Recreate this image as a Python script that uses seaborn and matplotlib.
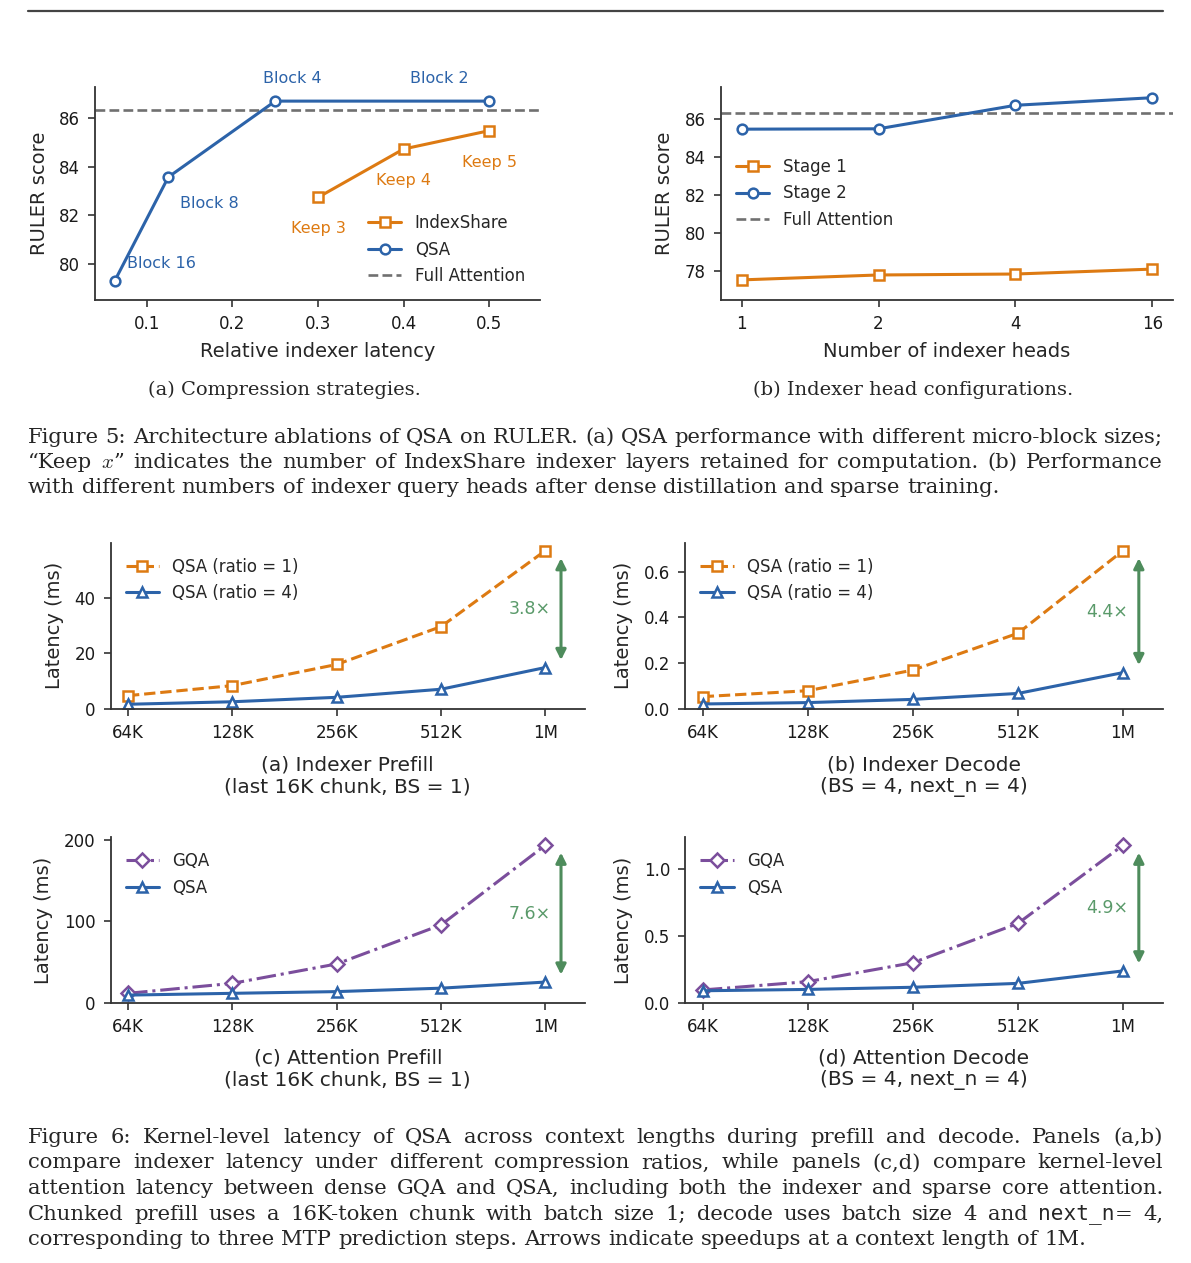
import numpy as np
import matplotlib
matplotlib.use("Agg")
import matplotlib.pyplot as plt
import seaborn as sns
from matplotlib.ticker import MultipleLocator
from matplotlib.lines import Line2D

# ---------------- data ----------------
qsa_latency = [0.0625, 0.125, 0.25, 0.5]
qsa_score = [79.33, 83.57, 86.68, 86.68]
qsa_labels = ["Block 16", "Block 8", "Block 4", "Block 2"]
qsa_label_pos = [(0.117, 80.04), (0.173, 82.5), (0.2696, 87.62), (0.442, 87.6)]

idx_latency = [0.3, 0.4, 0.5]
idx_score = [82.74, 84.72, 85.47]
idx_labels = ["Keep 3", "Keep 4", "Keep 5"]
idx_label_pos = [(0.30, 81.47), (0.40, 83.45), (0.50, 84.16)]

full_attention = 86.3

heads = ["1", "2", "4", "16"]
stage1 = [77.51, 77.77, 77.82, 78.08]
stage2 = [85.46, 85.48, 86.72, 87.12]

contexts = ["64K", "128K", "256K", "512K", "1M"]
idx_prefill_r1 = [4.8, 8.4, 16.0, 29.6, 56.9]
idx_prefill_r4 = [1.7, 2.6, 4.2, 7.1, 14.9]
idx_decode_r1 = [0.054, 0.080, 0.170, 0.331, 0.692]
idx_decode_r4 = [0.022, 0.028, 0.042, 0.068, 0.159]
attn_prefill_gqa = [11.5, 23.7, 47.5, 95.3, 193.1]
attn_prefill_qsa = [9.3, 11.5, 13.6, 17.8, 25.3]
attn_decode_gqa = [0.095, 0.157, 0.298, 0.591, 1.174]
attn_decode_qsa = [0.089, 0.099, 0.115, 0.144, 0.237]
speedups = ["3.8×", "4.4×", "7.6×", "4.9×"]

# ---------------- style ----------------
sns.set_theme(style="ticks")
plt.rcParams["font.family"] = ["DejaVu Sans"]
plt.rcParams["mathtext.fontset"] = "cm"

ORANGE = "#DD7A12"
BLUE = "#2C63A9"
PURPLE = "#7B4E9C"
GREEN = "#4E8C5C"
GRAY = "#707070"
DARK = "#333333"

W, H = 1191, 1263
fig = plt.figure(figsize=(W / 100, H / 100), dpi=100)


def px_axes(l, t, r, b):
    return fig.add_axes([l / W, 1 - b / H, (r - l) / W, (b - t) / H])


def style_ax(ax):
    sns.despine(ax=ax)
    for s in ("left", "bottom"):
        ax.spines[s].set_color(DARK)
        ax.spines[s].set_linewidth(1.3)
    ax.tick_params(labelsize=12, length=5, width=1.2, pad=6,
                   color=DARK, labelcolor="#1a1a1a")


def line(ax, x, y, color, marker, ls="-", label=None, ms=7.0):
    sns.lineplot(x=x, y=y, ax=ax, color=color, marker=marker, linestyle=ls,
                 linewidth=2.2, markersize=ms, markerfacecolor="white",
                 markeredgecolor=color, markeredgewidth=1.8, label=label,
                 legend=False, sort=False, errorbar=None)


# ---------------- Figure 5 (a) ----------------
ax = px_axes(95.4, 86.7, 540, 300)
style_ax(ax)
line(ax, idx_latency, idx_score, ORANGE, "s", label="IndexShare", ms=7.5)
line(ax, qsa_latency, qsa_score, BLUE, "o", label="QSA")
ax.axhline(full_attention, color=GRAY, ls="--", lw=1.9, label="Full Attention", zorder=1)
for (tx, ty), s in zip(qsa_label_pos, qsa_labels):
    ax.text(tx, ty, s, color=BLUE, fontsize=11.5, ha="center", va="center")
for (tx, ty), s in zip(idx_label_pos, idx_labels):
    ax.text(tx, ty, s, color=ORANGE, fontsize=11.5, ha="center", va="center")
ax.set_xlim(0.0398, 0.5594)
ax.set_ylim(78.54, 87.27)
ax.set_xticks([0.1, 0.2, 0.3, 0.4, 0.5])
ax.yaxis.set_major_locator(MultipleLocator(2))
ax.set_xlabel("Relative indexer latency", fontsize=14, labelpad=6)
ax.set_ylabel("RULER score", fontsize=14, labelpad=7.5)
h, l = ax.get_legend_handles_labels()
ax.legend(h, l, loc="lower right", frameon=False, fontsize=12)

# ---------------- Figure 5 (b) ----------------
ax = px_axes(721, 86.7, 1173, 300)
style_ax(ax)
hx = np.arange(len(heads))
line(ax, hx, stage1, ORANGE, "s", label="Stage 1", ms=7.5)
line(ax, hx, stage2, BLUE, "o", label="Stage 2")
ax.axhline(full_attention, color=GRAY, ls="--", lw=1.9, label="Full Attention", zorder=1)
ax.set_xticks(hx)
ax.set_xticklabels(heads)
ax.set_xlim(-0.15, 3.15)
ax.set_ylim(76.45, 87.70)
ax.yaxis.set_major_locator(MultipleLocator(2))
ax.set_xlabel("Number of indexer heads", fontsize=14, labelpad=6)
ax.set_ylabel("RULER score", fontsize=14, labelpad=7.5)
h, l = ax.get_legend_handles_labels()
ax.legend(h, l, loc="center left", frameon=False, fontsize=12)

# ---------------- Figure 6 panels ----------------
cx = np.arange(len(contexts))
panels = [
    ((110.8, 542.7, 585, 709), idx_prefill_r1, idx_prefill_r4,
     ("QSA (ratio = 1)", "QSA (ratio = 4)"), ORANGE, "s", "--", 20, speedups[0]),
    ((685.4, 542.7, 1163, 709), idx_decode_r1, idx_decode_r4,
     ("QSA (ratio = 1)", "QSA (ratio = 4)"), ORANGE, "s", "--", 0.2, speedups[1]),
    ((110.8, 837.3, 585, 1002.7), attn_prefill_gqa, attn_prefill_qsa,
     ("GQA", "QSA"), PURPLE, "D", "-.", 100, speedups[2]),
    ((685.4, 837.3, 1163, 1002.7), attn_decode_gqa, attn_decode_qsa,
     ("GQA", "QSA"), PURPLE, "D", "-.", 0.5, speedups[3]),
]
for rect, top, bot, labs, c1, m1, ls1, step, sp in panels:
    ax = px_axes(*rect)
    style_ax(ax)
    line(ax, cx, top, c1, m1, ls=ls1, label=labs[0], ms=6.8 if m1 == "D" else 7.5)
    line(ax, cx, bot, BLUE, "^", label=labs[1], ms=7.5)
    ytop = max(top) * 1.05
    ax.set_ylim(0, ytop)
    ax.set_xlim(-0.165, 4.38)
    ax.set_xticks(cx)
    ax.set_xticklabels(contexts)
    ax.yaxis.set_major_locator(MultipleLocator(step))
    ax.set_ylabel("Latency (ms)", fontsize=14, labelpad=7.5)
    hi = top[-1] - 0.045 * ytop
    lo = bot[-1] + 0.045 * ytop
    ax.annotate("", xy=(4.15, hi), xytext=(4.15, lo),
                arrowprops=dict(arrowstyle="<|-|>", color=GREEN, lw=2.2,
                                mutation_scale=15, shrinkA=0, shrinkB=0))
    ax.text(4.05, (hi + lo) / 2, sp, color="#5a9a6a", fontsize=12.5,
            ha="right", va="center")
    h, l = ax.get_legend_handles_labels()
    ax.legend(h, l, loc="upper left", frameon=False, fontsize=12)

# sub-captions of figure 6
sub6 = [
    (347.8, "(a) Indexer Prefill", "(last 16K chunk, BS = 1)", 765, 786.7),
    (924.0, "(b) Indexer Decode", "(BS = 4, next_n = 4)", 765, 786.7),
    (347.8, "(c) Attention Prefill", "(last 16K chunk, BS = 1)", 1058, 1080),
    (924.0, "(d) Attention Decode", "(BS = 4, next_n = 4)", 1058, 1080),
]
for x, t1, t2, y1, y2 in sub6:
    fig.text(x / W, 1 - y1 / H, t1, fontsize=14.5, ha="center", va="center")
    fig.text(x / W, 1 - y2 / H, t2, fontsize=14.5, ha="center", va="center")

# sub-captions of figure 5
SERIF = ["DejaVu Serif"]
fig.text(284.6 / W, 1 - 395 / H, "(a) Compression strategies.", family=SERIF,
         fontsize=14, ha="center", va="baseline")
fig.text(913 / W, 1 - 395 / H, "(b) Indexer head configurations.", family=SERIF,
         fontsize=14, ha="center", va="baseline")

# top rule
fig.add_artist(Line2D([28 / W, 1163 / W], [1 - 11 / H, 1 - 11 / H], color="#444444", lw=1.6))

# ---------------- justified captions ----------------
renderer = fig.canvas.get_renderer()
MONO = ["DejaVu Sans Mono"]


def words_of(s):
    return [[(w, SERIF)] for w in s.split()]


cap5 = [
    words_of("Figure 5: Architecture ablations of QSA on RULER. (a) QSA performance with different micro-block sizes;"),
    [[("“Keep", SERIF)], [("$x$”", SERIF)]] + words_of("indicates the number of IndexShare indexer layers retained for computation. (b) Performance"),
    words_of("with different numbers of indexer query heads after dense distillation and sparse training."),
]
cap6 = [
    words_of("Figure 6: Kernel-level latency of QSA across context lengths during prefill and decode. Panels (a,b)"),
    words_of("compare indexer latency under different compression ratios, while panels (c,d) compare kernel-level"),
    words_of("attention latency between dense GQA and QSA, including both the indexer and sparse core attention."),
    words_of("Chunked prefill uses a 16K-token chunk with batch size 1; decode uses batch size 4 and")
    + [[("next_n", MONO), ("=", SERIF)], [("4,", SERIF)]],
    words_of("corresponding to three MTP prediction steps. Arrows indicate speedups at a context length of 1M."),
]


def measure(txt, fam, size):
    t = fig.text(0, 0, txt, family=fam, fontsize=size)
    w = t.get_window_extent(renderer).width
    t.remove()
    return w


def natural(words, size):
    sp = measure("x x", SERIF, size) - measure("xx", SERIF, size)
    tot = sum(measure(t, f, size) for w in words for t, f in w)
    return tot + sp * (len(words) - 1)


X0, X1 = 28, 1163
BASE = 13.0
ratios = [(X1 - X0) / natural(ln, BASE) for ln in cap5[:2] + cap6[:4]]
size = BASE * min(ratios) * 1.0


def draw_caption(lines, baselines, justify):
    sp = measure("x x", SERIF, size) - measure("xx", SERIF, size)
    for words, yb, just in zip(lines, baselines, justify):
        arts, widths = [], []
        for w in words:
            pieces, ws = [], 0
            for txt, fam in w:
                t = fig.text(0, 1 - yb / H, txt, family=fam, fontsize=size,
                             ha="left", va="baseline")
                bw = t.get_window_extent(renderer).width
                pieces.append((t, bw))
                ws += bw
            arts.append(pieces)
            widths.append(ws)
        gap = (X1 - X0 - sum(widths)) / (len(words) - 1) if just else sp
        x = X0
        for pieces, ws in zip(arts, widths):
            xx = x
            for t, bw in pieces:
                t.set_x(xx / W)
                xx += bw
            x += ws + gap


draw_caption(cap5, [443, 468, 493], [True, True, False])
draw_caption(cap6, [1143, 1168.5, 1194, 1219.5, 1245], [True, True, True, True, False])

fig.savefig("out.png", dpi=100)
